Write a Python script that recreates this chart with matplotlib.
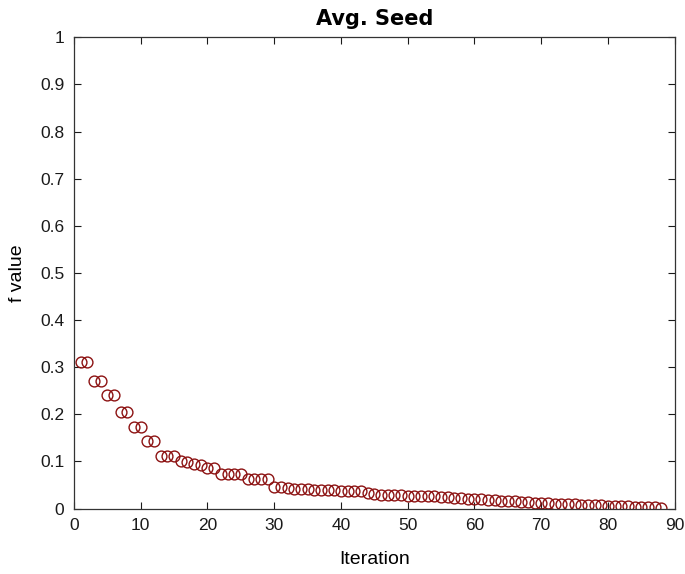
import numpy as np
import matplotlib
matplotlib.use("Agg")
import matplotlib.pyplot as plt

plt.rcParams['font.family'] = ['Liberation Sans', 'DejaVu Sans']

# iteration numbers and f value per iteration
iterations = np.arange(1, 89)
f_values = [
    0.311, 0.311, 0.271, 0.271, 0.240, 0.240, 0.205, 0.205, 0.173, 0.173,
    0.143, 0.143, 0.111, 0.111, 0.111, 0.101, 0.098, 0.094, 0.093, 0.086,
    0.087, 0.073, 0.073, 0.073, 0.073, 0.063, 0.062, 0.062, 0.062, 0.046,
    0.045, 0.043, 0.042, 0.041, 0.041, 0.040, 0.040, 0.039, 0.039, 0.038,
    0.038, 0.037, 0.037, 0.033, 0.030, 0.029, 0.029, 0.028, 0.028, 0.027,
    0.027, 0.027, 0.026, 0.026, 0.025, 0.024, 0.023, 0.022, 0.021, 0.020,
    0.020, 0.019, 0.018, 0.017, 0.016, 0.015, 0.014, 0.013, 0.012, 0.012,
    0.011, 0.010, 0.010, 0.009, 0.009, 0.008, 0.008, 0.007, 0.007, 0.006,
    0.006, 0.005, 0.005, 0.004, 0.004, 0.003, 0.003, 0.002,
]
x_ticks = np.arange(0, 91, 10)
y_ticks = np.round(np.arange(0, 1.01, 0.1), 1)
y_tick_labels = ['0'] + [f'{v:g}' for v in y_ticks[1:]]

fig = plt.figure(figsize=(6.85, 5.74), dpi=100)
ax = fig.add_axes([0.108, 0.114, 0.877, 0.821])

ax.plot(iterations, f_values, linestyle='none', marker='o', markersize=7.8,
        markerfacecolor='none', markeredgecolor='#8c1212', markeredgewidth=1.0)

ax.set_xlim(0, 90)
ax.set_ylim(0, 1)
ax.set_xticks(x_ticks)
ax.set_yticks(y_ticks)
ax.set_yticklabels(y_tick_labels)
ax.tick_params(direction='in', top=True, right=True, length=5, width=0.8,
               labelsize=12.5, colors='#1a1a1a', pad=7)
for s in ax.spines.values():
    s.set_linewidth(0.9)
    s.set_color('#333333')

ax.set_title('Avg. Seed', fontsize=15, fontweight='bold', pad=9,
             family=['DejaVu Sans'])
ax.set_xlabel('Iteration', fontsize=14, labelpad=13)
ax.set_ylabel('f value', fontsize=14, labelpad=10)

fig.savefig('out.png', dpi=100)
